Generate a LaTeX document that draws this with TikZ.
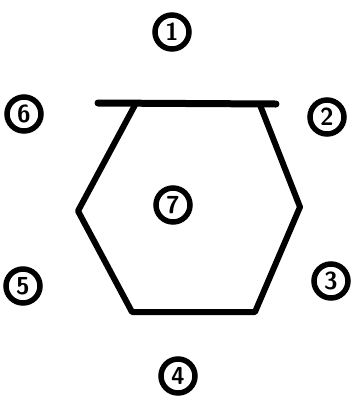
\documentclass[tikz,border=0pt]{standalone}
\usepackage{tikz}
\usetikzlibrary{positioning}

\begin{document}
\begin{tikzpicture}[
    x=0.02cm, y=-0.02cm,
    num/.style={circle, draw=black, line width=0.11cm, minimum size=0.68cm,
                inner sep=0pt, font=\fontsize{14}{14}\selectfont\sffamily\bfseries},
    edge/.style={line width=0.12cm, line join=round, line cap=round}
  ]
    \useasboundingbox (0,0) rectangle (359,400);

    % Hexagon corners
    \coordinate (tl) at (135,105);
    \coordinate (tr) at (260,105);
    \coordinate (r)  at (300,207);
    \coordinate (br) at (255,312);
    \coordinate (bl) at (132,312);
    \coordinate (l)  at (78,211);
    \coordinate (lineL) at (98,103);
    \coordinate (lineR) at (276,104);

    \draw[edge] (tl) -- (l) -- (bl) -- (br) -- (r) -- (tr);
    \draw[edge, line width=0.14cm] (lineL) -- (lineR);

    % Numbered circles
    \node[num] (c7) at (173,205) {7};
    \node[num] (c1) at (172,32)  {1};
    \node[num] (c2) at (327,117) {2};
    \node[num] (c3) at (331,281) {3};
    \node[num] (c4) at (178,376) {4};
    \node[num] (c5) at (23,286)  {5};
    \node[num] (c6) at (24,114)  {6};
\end{tikzpicture}
\end{document}
